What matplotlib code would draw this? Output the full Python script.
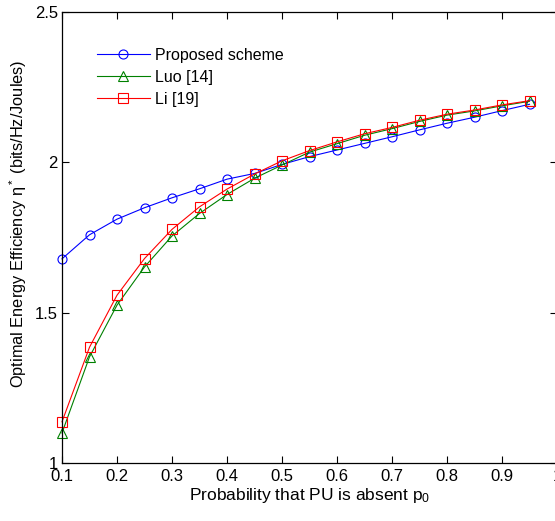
import matplotlib
matplotlib.use("Agg")
import matplotlib.pyplot as plt
import numpy as np

plt.rcParams["font.family"] = ["Liberation Sans", "DejaVu Sans"]
plt.rcParams["mathtext.fontset"] = "custom"
plt.rcParams["mathtext.rm"] = "Liberation Sans"
plt.rcParams["mathtext.it"] = "Liberation Sans:italic"

p0 = [0.1, 0.15, 0.2, 0.25, 0.3, 0.35, 0.4, 0.45, 0.5, 0.55,
      0.6, 0.65, 0.7, 0.75, 0.8, 0.85, 0.9, 0.95]

proposed = [1.679, 1.759, 1.811, 1.849, 1.882, 1.912, 1.944, 1.963, 1.993, 2.019,
            2.041, 2.063, 2.085, 2.108, 2.130, 2.150, 2.172, 2.193]
luo = [1.100, 1.353, 1.525, 1.652, 1.755, 1.830, 1.893, 1.947, 1.991, 2.034,
       2.062, 2.090, 2.112, 2.136, 2.157, 2.171, 2.188, 2.203]
li = [1.137, 1.385, 1.558, 1.680, 1.777, 1.852, 1.911, 1.961, 2.005, 2.039,
      2.068, 2.095, 2.116, 2.140, 2.160, 2.174, 2.191, 2.205]

xticks = [0.1, 0.2, 0.3, 0.4, 0.5, 0.6, 0.7, 0.8, 0.9, 1.0]
xticklabels = ["0.1", "0.2", "0.3", "0.4", "0.5", "0.6", "0.7", "0.8", "0.9", "1"]
yticks = [1, 1.5, 2, 2.5]
yticklabels = ["1", "1.5", "2", "2.5"]

fig = plt.figure(figsize=(5.55, 5.21), dpi=100)
ax = fig.add_axes([62 / 555, 1 - 463 / 521, (557 - 62) / 555, (463 - 12) / 521])

ax.plot(p0, proposed, color="b", marker="o", mfc="none", ms=6.5, lw=0.8, mew=0.8,
        label="Proposed scheme", clip_on=False)
ax.plot(p0, luo, color=(0, 0.5, 0), marker="^", mfc="none", ms=7, lw=0.8, mew=0.8,
        label="Luo [14]", clip_on=False)
ax.plot(p0, li, color="r", marker="s", mfc="none", ms=7, lw=0.8, mew=0.8,
        label="Li [19]", clip_on=False)

ax.set_xlim(0.1, 1.0)
ax.set_ylim(1, 2.5)
ax.set_xticks(xticks)
ax.set_xticklabels(xticklabels)
ax.set_yticks(yticks)
ax.set_yticklabels(yticklabels)
ax.tick_params(direction="in", top=True, right=True, labelsize=12, length=5)
ax.tick_params(axis="x", pad=4)
ax.tick_params(axis="y", pad=3)
for s in ax.spines.values():
    s.set_linewidth(0.9)

ax.set_xlabel(r"Probability that PU is absent $\mathregular{p_0}$", fontsize=12.5, labelpad=2)
ax.set_ylabel(r"Optimal Energy Efficiency $\mathregular{\eta^*}$ (bits/Hz/Joules)",
              fontsize=11.8)
ax.yaxis.set_label_coords(-0.066, 0.53)

ax.legend(loc="upper left", bbox_to_anchor=(0.058, 0.935), frameon=False, fontsize=11.5,
          handlelength=3.3, handletextpad=0.3, labelspacing=0.45, borderaxespad=0)

fig.savefig("out.png", dpi=100)
